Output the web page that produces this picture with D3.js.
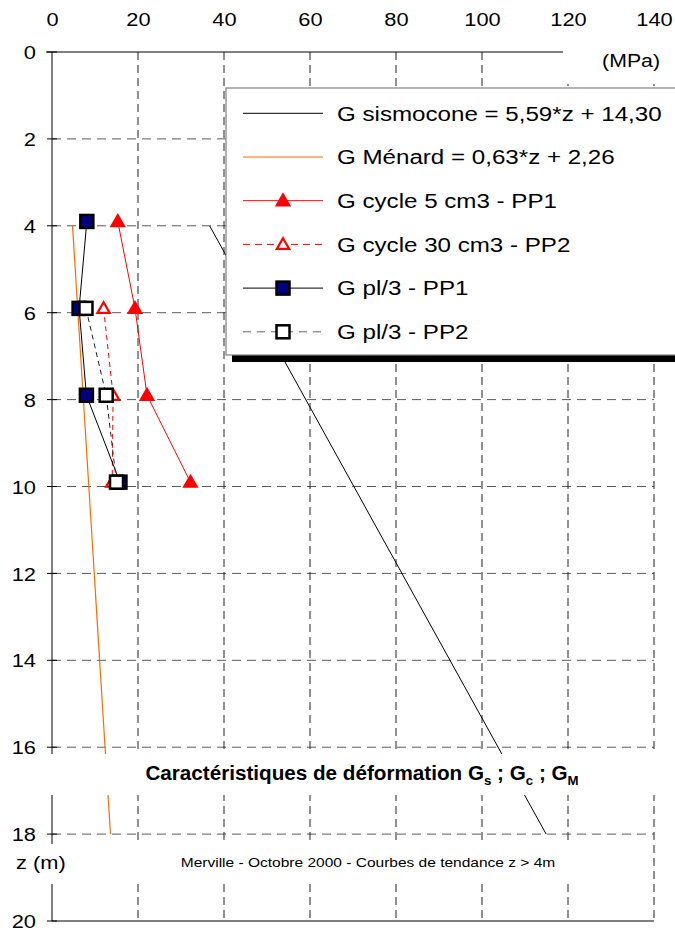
<!DOCTYPE html>
<html>
<head>
<meta charset="utf-8">
<title>Caractéristiques de déformation</title>
<script src="https://d3js.org/d3.v7.min.js"></script>
<style>
    body {margin: 0; background: #fff;}
    svg text {font-family: "Liberation Sans", Arial, sans-serif; fill: #000;}
</style>
</head>
<body>
<script>
// axes
var xTicks = [0, 20, 40, 60, 80, 100, 120, 140];
var zTicks = [0, 2, 4, 6, 8, 10, 12, 14, 16, 18, 20];

// mesures (profondeur en m, G en MPa)
var depthsPP1 = [3.9, 5.9, 7.9, 9.9];
var depthsPP2 = [5.9, 7.9, 9.9];
var cycle5PP1 = [15.3, 19.3, 22.1, 32.2];
var cycle30PP2 = [12.0, 14.2, 14.0];
var pl3PP1 = [8.1, 6.3, 8.0, 15.8];
var pl3PP2 = [7.9, 12.6, 15.0];

// courbes de tendance, z > 4m
var trendDepths = [4, 18];
var sismocone = [36.66, 114.92];
var menard = [4.78, 13.60];

var legendLabels = [
    "G sismocone = 5,59*z + 14,30",
    "G Ménard = 0,63*z + 2,26",
    "G cycle 5 cm3 - PP1",
    "G cycle 30 cm3 - PP2",
    "G pl/3 - PP1",
    "G pl/3 - PP2"
];

var SX = 1.15; // texte un peu étiré comme sur l'original

var svg = d3.select("body").append("svg")
    .attr("width", 675)
    .attr("height", 931);

var x = d3.scaleLinear().domain([0, 140]).range([52, 654]);
var y = d3.scaleLinear().domain([0, 20]).range([52, 921]);

// grille
svg.append("g").selectAll("line")
    .data(zTicks.filter(function(d) { return d > 0 && d < 20; }))
    .enter().append("line")
    .attr("x1", x(0)).attr("x2", x(140))
    .attr("y1", function(d) { return y(d); })
    .attr("y2", function(d) { return y(d); })
    .attr("stroke", "#5a5a5a")
    .attr("stroke-dasharray", "9,6");

svg.append("g").selectAll("line")
    .data(xTicks.filter(function(d) { return d > 0; }))
    .enter().append("line")
    .attr("x1", function(d) { return x(d); })
    .attr("x2", function(d) { return x(d); })
    .attr("y1", y(0)).attr("y2", y(20))
    .attr("stroke", "#222")
    .attr("stroke-dasharray", "8,5");

// axes
svg.append("line").attr("x1", x(0)).attr("x2", x(0)).attr("y1", y(0)).attr("y2", y(20))
    .attr("stroke", "#000");
svg.append("line").attr("x1", x(0) - 6).attr("x2", x(140)).attr("y1", y(0)).attr("y2", y(0))
    .attr("stroke", "#000");
svg.append("line").attr("x1", x(0)).attr("x2", x(140)).attr("y1", y(20)).attr("y2", y(20))
    .attr("stroke", "#000");
svg.append("g").selectAll("line")
    .data(zTicks)
    .enter().append("line")
    .attr("x1", x(0) - 5).attr("x2", x(0) + 5)
    .attr("y1", function(d) { return y(d); })
    .attr("y2", function(d) { return y(d); })
    .attr("stroke", "#000");

// courbes
var line = d3.line()
    .x(function(d) { return x(d[0]); })
    .y(function(d) { return y(d[1]); });

function pairs(vals, depths) {
    return vals.map(function(v, i) { return [v, depths[i]]; });
}

svg.append("path").datum(pairs(sismocone, trendDepths))
    .attr("d", line).attr("fill", "none").attr("stroke", "#000").attr("stroke-width", 1);
svg.append("path").datum(pairs(menard, trendDepths))
    .attr("d", line).attr("fill", "none").attr("stroke", "#ff6a00").attr("stroke-width", 1.2);
svg.append("path").datum(pairs(cycle5PP1, depthsPP1))
    .attr("d", line).attr("fill", "none").attr("stroke", "#ff0000").attr("stroke-width", 1);
svg.append("path").datum(pairs(cycle30PP2, depthsPP2))
    .attr("d", line).attr("fill", "none").attr("stroke", "#ff0000").attr("stroke-width", 1)
    .attr("stroke-dasharray", "5,4");
svg.append("path").datum(pairs(pl3PP1, depthsPP1))
    .attr("d", line).attr("fill", "none").attr("stroke", "#000").attr("stroke-width", 1);
svg.append("path").datum(pairs(pl3PP2, depthsPP2))
    .attr("d", line).attr("fill", "none").attr("stroke", "#222").attr("stroke-width", 1)
    .attr("stroke-dasharray", "5,4");

// marqueurs
function marker(g, type, cx, cy) {
    if (type == "triFull") {
        g.append("path")
            .attr("d", d3.symbol().type(d3.symbolTriangle).size(115)())
            .attr("transform", "translate(" + cx + "," + (cy + 1) + ")")
            .attr("fill", "#ff0000");
    } else if (type == "triOpen") {
        g.append("path")
            .attr("d", d3.symbol().type(d3.symbolTriangle).size(66)())
            .attr("transform", "translate(" + cx + "," + (cy + 1) + ")")
            .attr("fill", "#fff").attr("stroke", "#ff0000").attr("stroke-width", 2.2);
    } else {
        g.append("rect")
            .attr("x", cx - 6.5).attr("y", cy - 6.5)
            .attr("width", 13).attr("height", 13)
            .attr("fill", type == "sqFull" ? "#000080" : "#fff")
            .attr("stroke", "#000").attr("stroke-width", 2.5);
    }
}

var marks = svg.append("g");
pairs(cycle5PP1, depthsPP1).forEach(function(p) { marker(marks, "triFull", x(p[0]), y(p[1])); });
pairs(cycle30PP2, depthsPP2).forEach(function(p) { marker(marks, "triOpen", x(p[0]), y(p[1])); });
pairs(pl3PP1, depthsPP1).forEach(function(p) { marker(marks, "sqFull", x(p[0]), y(p[1])); });
pairs(pl3PP2, depthsPP2).forEach(function(p) { marker(marks, "sqOpen", x(p[0]), y(p[1])); });

// légende
var leg = svg.append("g");
leg.append("rect").attr("x", 232).attr("y", 354).attr("width", 470).attr("height", 8).attr("fill", "#000");
leg.append("rect").attr("x", 226).attr("y", 88).attr("width", 470).attr("height", 267)
    .attr("fill", "#fff").attr("stroke", "#808080").attr("stroke-width", 1.2);

var legendStyles = [
    {color: "#000", dash: null, mark: null},
    {color: "#ff6a00", dash: null, mark: null},
    {color: "#ff0000", dash: null, mark: "triFull"},
    {color: "#ff0000", dash: "7,5", mark: "triOpen"},
    {color: "#000", dash: null, mark: "sqFull"},
    {color: "#666", dash: "8,6", mark: "sqOpen"}
];

function stext(g, tx, ty, str, size, anchor) {
    return g.append("text")
        .attr("transform", "translate(" + tx + "," + ty + ") scale(" + SX + ",1)")
        .attr("font-size", size)
        .attr("text-anchor", anchor || "start")
        .attr("dy", "0.35em")
        .text(str);
}

legendLabels.forEach(function(lab, i) {
    var ly = 113.3 + i * 43.7;
    var st = legendStyles[i];
    leg.append("line").attr("x1", 243).attr("x2", 323).attr("y1", ly).attr("y2", ly)
        .attr("stroke", st.color).attr("stroke-width", 1)
        .attr("stroke-dasharray", st.dash);
    if (st.mark) marker(leg, st.mark, 283, ly);
    stext(leg, 337, ly, lab, 21);
});

// cadres blancs des titres
svg.append("rect").attr("x", 563).attr("y", 38).attr("width", 112).attr("height", 46).attr("fill", "#fff");
svg.append("rect").attr("x", 40).attr("y", 754).attr("width", 625).attr("height", 41).attr("fill", "#fff");
svg.append("rect").attr("x", 0).attr("y", 844).attr("width", 640).attr("height", 40).attr("fill", "#fff");

// étiquettes des axes
var topAxis = svg.append("g").attr("transform", "translate(0,19.5)")
    .call(d3.axisTop(x).tickValues(xTicks).tickSize(0).tickPadding(0));
topAxis.select(".domain").remove();
topAxis.selectAll("text")
    .attr("dy", "0.35em")
    .attr("font-size", 19)
    .attr("transform", "scale(" + SX + ",1)");

var leftAxis = svg.append("g").attr("transform", "translate(36,0)")
    .call(d3.axisLeft(y).tickValues(zTicks).tickSize(0).tickPadding(0));
leftAxis.select(".domain").remove();
leftAxis.selectAll("text")
    .attr("dy", "0.35em")
    .attr("font-size", 19)
    .attr("transform", "scale(" + SX + ",1)");

svg.selectAll(".tick text").style("font-family", '"Liberation Sans", Arial, sans-serif').attr("fill", "#000");

stext(svg, 660, 61, "(MPa)", 18.5, "end");
stext(svg, 16, 862, "z (m)", 19, "start");

// titre
var title = svg.append("text")
    .attr("transform", "translate(362,773) scale(1.06,1)")
    .attr("text-anchor", "middle")
    .attr("dy", "0.35em")
    .attr("font-size", 19.5)
    .attr("font-weight", "bold");
var parts = [["Caractéristiques de déformation G", "s"], [" ; G", "c"], [" ; G", "M"]];
parts.forEach(function(p, i) {
    title.append("tspan").attr("dy", i == 0 ? null : -5).text(p[0]);
    title.append("tspan").attr("dy", 5).attr("font-size", 12.5).text(p[1]);
});

stext(svg, 368, 862, "Merville - Octobre 2000 - Courbes de tendance z > 4m", 13.5, "middle");
</script>
</body>
</html>
